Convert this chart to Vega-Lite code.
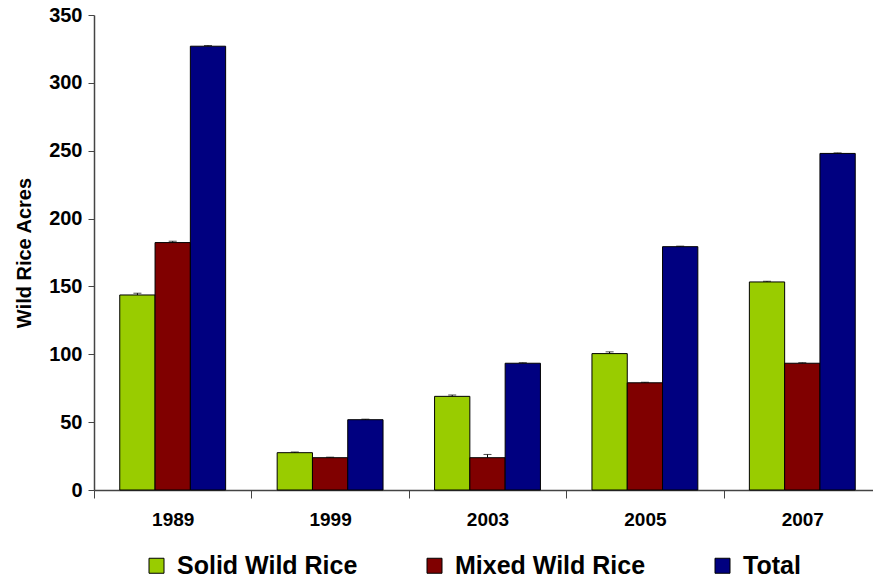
{
  "$schema": "https://vega.github.io/schema/vega-lite/v6.json",
  "width": 787,
  "height": 475,
  "autosize": {"type": "none"},
  "padding": {"left": 94, "top": 15, "right": 0, "bottom": 89},
  "background": "white",
  "config": {
    "view": {"stroke": null},
    "font": "Liberation Sans",
    "axis": {"grid": false, "domainColor": "#444444", "tickColor": "#444444", "labelFont": "Liberation Sans", "labelFontWeight": "bold", "labelColor": "black", "titleColor": "black", "titleFont": "Liberation Sans", "titleFontWeight": "bold"}
  },
  "data": {"values": [
    {"year": "1989", "series": "Solid Wild Rice", "value": 143.7, "hi": 145},
    {"year": "1989", "series": "Mixed Wild Rice", "value": 182.3, "hi": 183.3},
    {"year": "1989", "series": "Total", "value": 327, "hi": 327.5},
    {"year": "1999", "series": "Solid Wild Rice", "value": 27.5, "hi": 28},
    {"year": "1999", "series": "Mixed Wild Rice", "value": 23.8, "hi": 24.2},
    {"year": "1999", "series": "Total", "value": 51.8, "hi": 52.2},
    {"year": "2003", "series": "Solid Wild Rice", "value": 69, "hi": 70},
    {"year": "2003", "series": "Mixed Wild Rice", "value": 23.8, "hi": 26.2},
    {"year": "2003", "series": "Total", "value": 93.4, "hi": 93.8},
    {"year": "2005", "series": "Solid Wild Rice", "value": 100.5, "hi": 101.8},
    {"year": "2005", "series": "Mixed Wild Rice", "value": 79, "hi": 79.4},
    {"year": "2005", "series": "Total", "value": 179.3, "hi": 179.7},
    {"year": "2007", "series": "Solid Wild Rice", "value": 153.3, "hi": 153.8},
    {"year": "2007", "series": "Mixed Wild Rice", "value": 93.4, "hi": 93.8},
    {"year": "2007", "series": "Total", "value": 248, "hi": 248.4}
  ]},
  "encoding": {
    "x": {"field": "year", "type": "nominal", "scale": {"paddingInner": 0, "paddingOuter": 0},
      "axis": {"title": null, "labelAngle": 0, "labelFontSize": 19, "labelPadding": 12, "tickSize": 8, "tickBand": "extent", "domainWidth": 1.5}},
    "xOffset": {"field": "series", "type": "nominal", "sort": ["Solid Wild Rice", "Mixed Wild Rice", "Total"], "scale": {"paddingInner": 0, "paddingOuter": 0.73}}
  },
  "layer": [
    {
      "mark": {"type": "bar", "stroke": "black", "strokeWidth": 1},
      "encoding": {
        "y": {"field": "value", "type": "quantitative", "scale": {"domain": [0, 350]},
          "axis": {"title": "Wild Rice Acres", "titleFontSize": 20, "titlePadding": 14, "labelFontSize": 20, "labelPadding": 6, "values": [0, 50, 100, 150, 200, 250, 300, 350], "tickSize": 6, "domainWidth": 1.5}},
        "color": {"field": "series", "type": "nominal", "sort": ["Solid Wild Rice", "Mixed Wild Rice", "Total"],
          "scale": {"domain": ["Solid Wild Rice", "Mixed Wild Rice", "Total"], "range": ["#99cc00", "#800000", "#000080"]},
          "legend": {"title": null, "orient": "none", "legendX": 50, "legendY": 538, "direction": "horizontal", "columns": 3, "columnPadding": 64,
            "symbolType": "square", "symbolSize": 225, "symbolStrokeColor": "black", "symbolStrokeWidth": 1, "symbolOpacity": 1,
            "labelFontSize": 25, "labelFontWeight": "bold", "labelColor": "black", "labelFont": "Liberation Sans", "labelOffset": 8, "labelLimit": 400}}
      }
    },
    {
      "mark": {"type": "rule", "color": "black", "strokeWidth": 1},
      "encoding": {"y": {"field": "value", "type": "quantitative"}, "y2": {"field": "hi"}}
    },
    {
      "mark": {"type": "tick", "color": "black", "size": 8, "thickness": 1},
      "encoding": {"y": {"field": "hi", "type": "quantitative"}}
    }
  ]
}
